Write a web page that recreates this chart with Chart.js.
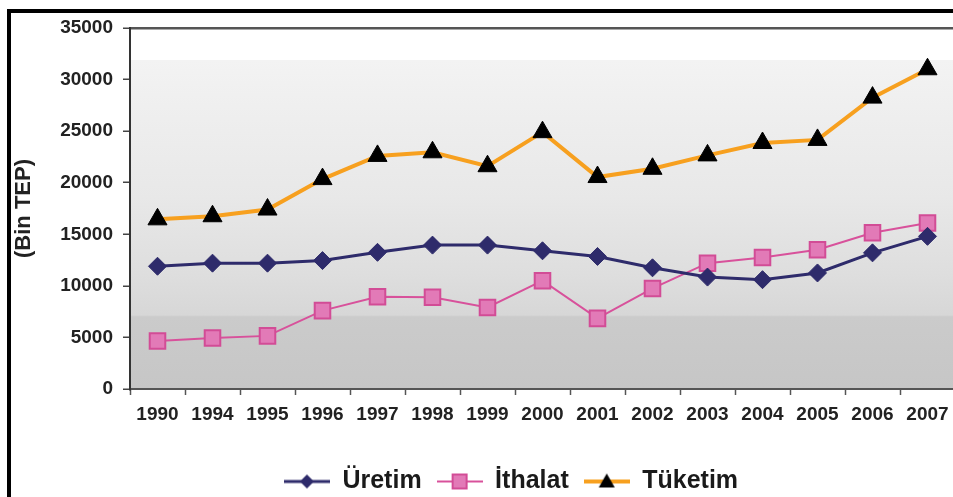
<!DOCTYPE html>
<html>
<head>
<meta charset="utf-8">
<script src="https://cdn.jsdelivr.net/npm/chart.js@4.4.1/dist/chart.umd.min.js"></script>
<style>
  html, body { margin: 0; padding: 0; background: #fff; overflow: hidden; }
  #wrap { position: relative; width: 953px; height: 497px; overflow: hidden; }
  #frame { position: absolute; left: 7px; top: 9px; width: 2000px; height: 1000px; border: 4px solid #000; }
  #chart { position: absolute; left: 0; top: 0; }
</style>
</head>
<body>
<div id="wrap">
  <div id="frame"></div>
  <canvas id="chart" width="1022" height="504"></canvas>
</div>
<script>
/* =========================
   Data (Bin TEP)
========================= */
const years = ["1990", "1994", "1995", "1996", "1997", "1998", "1999", "2000",
               "2001", "2002", "2003", "2004", "2005", "2006", "2007"];

const uretim  = [11900, 12200, 12200, 12450, 13250, 13950, 13950, 13400,
                 12850, 11750, 10850, 10600, 11250, 13200, 14800];
const ithalat = [4650, 4950, 5150, 7600, 8950, 8900, 7900, 10500,
                 6850, 9750, 12200, 12750, 13500, 15150, 16100];
const tuketim = [16450, 16750, 17400, 20350, 22600, 22950, 21600, 24900,
                 20550, 21350, 22650, 23850, 24150, 28250, 31000];

const seriesNames = ["Üretim", "İthalat", "Tüketim"];
const yTicks = [0, 5000, 10000, 15000, 20000, 25000, 30000, 35000];

const FONT = 'Arial, "Liberation Sans", sans-serif';

/* =========================
   Legend icons (line + marker)
========================= */
function makeIcon(lineColor, lineWidth, drawMarker) {
  const c = document.createElement("canvas");
  c.width = 46;
  c.height = 24;
  const g = c.getContext("2d");
  g.strokeStyle = lineColor;
  g.lineWidth = lineWidth;
  g.beginPath();
  g.moveTo(0, 12);
  g.lineTo(46, 12);
  g.stroke();
  drawMarker(g, 23, 12);
  return c;
}

const icons = [
  makeIcon("#2e2b6b", 3, (g, x, y) => {
    g.fillStyle = "#2e2b6b";
    g.beginPath();
    g.moveTo(x, y - 7); g.lineTo(x + 7, y); g.lineTo(x, y + 7); g.lineTo(x - 7, y);
    g.closePath();
    g.fill();
  }),
  makeIcon("#d8519b", 2, (g, x, y) => {
    g.fillStyle = "#e27ab7";
    g.strokeStyle = "#d24c96";
    g.lineWidth = 2;
    g.fillRect(x - 7, y - 7, 14, 14);
    g.strokeRect(x - 7, y - 7, 14, 14);
  }),
  makeIcon("#f7a01f", 4, (g, x, y) => {
    g.fillStyle = "#000";
    g.beginPath();
    g.moveTo(x, y - 8); g.lineTo(x + 8, y + 6); g.lineTo(x - 8, y + 6);
    g.closePath();
    g.fill();
  })
];

/* =========================
   Plot background (banded grey)
========================= */
const plotBackground = {
  id: "plotBackground",
  beforeDraw(chart) {
    const { ctx, chartArea: a } = chart;
    const grad = ctx.createLinearGradient(0, a.top, 0, a.bottom);
    grad.addColorStop(0, "#ffffff");
    grad.addColorStop(0.088, "#ffffff");
    grad.addColorStop(0.09, "#f3f3f3");
    grad.addColorStop(0.25, "#eeeeee");
    grad.addColorStop(0.47, "#e8e8e8");
    grad.addColorStop(0.68, "#dedede");
    grad.addColorStop(0.795, "#d7d7d7");
    grad.addColorStop(0.8, "#cbcbcb");
    grad.addColorStop(1, "#c6c6c6");
    ctx.save();
    ctx.fillStyle = grad;
    ctx.fillRect(a.left, a.top, a.right - a.left, a.bottom - a.top);
    ctx.restore();
  }
};

/* =========================
   Chart
========================= */
new Chart(document.getElementById("chart"), {
  type: "line",
  data: {
    labels: years,
    datasets: [
      {
        label: seriesNames[0],
        data: uretim,
        borderColor: "#2e2b6b",
        borderWidth: 3,
        pointStyle: "rectRot",
        pointRadius: 9,
        pointBackgroundColor: "#2e2b6b",
        pointBorderColor: "#2e2b6b",
        pointBorderWidth: 1,
        tension: 0
      },
      {
        label: seriesNames[1],
        data: ithalat,
        borderColor: "#d8519b",
        borderWidth: 2,
        pointStyle: "rect",
        pointRadius: 11,
        pointBackgroundColor: "#e27ab7",
        pointBorderColor: "#d24c96",
        pointBorderWidth: 2,
        tension: 0
      },
      {
        label: seriesNames[2],
        data: tuketim,
        borderColor: "#f7a01f",
        borderWidth: 4,
        pointStyle: "triangle",
        pointRadius: 11,
        pointBackgroundColor: "#000",
        pointBorderColor: "#000",
        pointBorderWidth: 1,
        tension: 0
      }
    ]
  },
  options: {
    responsive: false,
    animation: false,
    layout: { padding: { left: 0, right: 0, top: 28, bottom: 0 } },
    scales: {
      x: {
        offset: true,
        afterFit: s => { s.height = 65; },
        grid: {
          offset: true,
          drawOnChartArea: false,
          tickLength: 6,
          tickColor: "#555",
          tickWidth: 1.5
        },
        border: { color: "#555", width: 2 },
        ticks: {
          padding: 8,
          color: "#222",
          font: { family: FONT, size: 19, weight: "bold" },
          maxRotation: 0,
          autoSkip: false
        }
      },
      y: {
        min: 0,
        max: 35000,
        afterFit: s => { s.width = 130; },
        afterBuildTicks: s => { s.ticks = yTicks.map(v => ({ value: v })); },
        grid: {
          color: c => (c.tick && c.tick.value === 35000 ? "#555" : "rgba(0,0,0,0)"),
          lineWidth: 2.5,
          tickLength: 7,
          tickColor: "#444",
          tickWidth: 1.5
        },
        border: { color: "#333", width: 2 },
        ticks: {
          padding: 10,
          color: "#222",
          font: { family: FONT, size: 19, weight: "bold" },
          callback: v => String(v)
        },
        title: {
          display: true,
          text: "(Bin TEP)",
          color: "#222",
          font: { family: FONT, size: 22, weight: "bold" },
          padding: { top: 11, bottom: 0 }
        }
      },
      // empty right-hand spacer so the plot runs past the window edge
      yRight: {
        position: "right",
        display: true,
        afterFit: s => { s.width = 67; },
        grid: { display: false },
        border: { display: false },
        ticks: { display: false }
      }
    },
    plugins: {
      tooltip: { enabled: false },
      legend: {
        position: "bottom",
        labels: {
          usePointStyle: true,
          pointStyleWidth: 46,
          padding: 15,
          color: "#1a1a1a",
          font: { family: FONT, size: 25, weight: "bold" },
          generateLabels: chart =>
            Chart.defaults.plugins.legend.labels.generateLabels(chart)
              .map((item, i) => ({ ...item, pointStyle: icons[i] }))
        }
      }
    }
  },
  plugins: [plotBackground]
});
</script>
</body>
</html>
